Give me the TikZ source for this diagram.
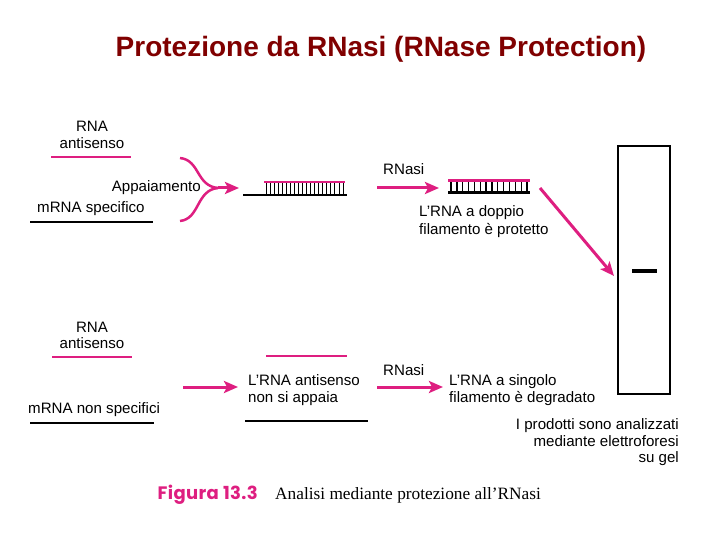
\documentclass[tikz,border=0pt]{standalone}
\usepackage{fontspec}
\setmainfont{Liberation Sans}
\newfontfamily\capserif{Liberation Serif}
\newfontfamily\figfont[LetterSpace=2]{Poppins}
\usetikzlibrary{arrows.meta}
\definecolor{mag}{RGB}{222,30,128}
\definecolor{titlered}{RGB}{128,0,0}
\begin{document}
\begin{tikzpicture}[x=1pt,y=-1pt,
  lbl/.style={font=\fontsize{15.1}{17}\selectfont, inner sep=0pt},
  magline/.style={draw=mag, line width=2pt},
  magthin/.style={draw=mag, line width=1.5pt},
  blkline/.style={draw=black, line width=2.5pt},
  tick/.style={draw=black, line width=0.8pt},
  thicktick/.style={draw=black, line width=1.3pt},
  magarrow/.style={draw=mag, line width=3pt, -{Stealth[length=14pt,width=12pt,inset=3pt]}},
  magcurve/.style={draw=mag, line width=2.5pt},
]
\useasboundingbox (0,0) rectangle (720,540);

% title
\node[anchor=base, inner sep=0pt, text=titlered, font=\fontsize{28}{30}\selectfont\bfseries] (title) at (381,57) {Protezione da RNasi (RNase Protection)};

% ---------- section 1 ----------
\node[lbl, anchor=base] (rna1) at (92,132) {RNA};
\node[lbl, anchor=base] (anti1) at (92,149) {antisenso};
\coordinate (as1a) at (51,157); \coordinate (as1b) at (131,157);
\draw[magline] (as1a) -- (as1b);
\node[lbl, anchor=base east] (appa) at (201,192) {Appaiamento};
\node[lbl, anchor=base west] (mspec) at (37,212) {mRNA specifico};
\coordinate (m1a) at (30,222); \coordinate (m1b) at (153,222);
\draw[blkline] (m1a) -- (m1b);

% merging arrow
\coordinate (cts) at (180,158);
\coordinate (cbs) at (180,221);
\coordinate (cm) at (218,188);
\coordinate (ctip) at (239,188);
\draw[magcurve] (cts) .. controls (200,160) and (196,186) .. (cm);
\draw[magcurve] (cbs) .. controls (200,219) and (196,190) .. (cm);
\draw[magarrow] (cm) -- (ctip);

% duplex 1
\coordinate (d1a) at (243,195); \coordinate (d1b) at (347,195);
\coordinate (d1ma) at (264,182); \coordinate (d1mb) at (345,182);
\foreach \i in {0,...,19} {\draw[tick] (266+\i*4.05,182) -- (266+\i*4.05,195);}
\draw[magthin] (d1ma) -- (d1mb);
\draw[blkline] (d1a) -- (d1b);

% RNasi arrow 1
\node[lbl, anchor=base west] (rnasi1) at (383,175) {RNasi};
\coordinate (r1a) at (377,188); \coordinate (r1b) at (439,188);
\draw[magarrow] (r1a) -- (r1b);

% duplex 2
\coordinate (d2ma) at (448,181); \coordinate (d2mb) at (530,181);
\coordinate (d2a) at (448,193); \coordinate (d2b) at (530,193);
\foreach \i in {0,...,13} {\draw[thicktick] (451+\i*5.85,181) -- (451+\i*5.85,193);}
\draw[draw=mag, line width=3pt] (d2ma) -- (d2mb);
\draw[draw=black, line width=3pt] (d2a) -- (d2b);
\node[lbl, anchor=base west] (prot1) at (419,216) {L’RNA a doppio};
\node[lbl, anchor=base west] (prot2) at (419,234) {filamento è protetto};

% diagonal arrow to gel
\coordinate (dga) at (540,188); \coordinate (dgb) at (614,276);
\draw[magarrow] (dga) -- (dgb);

% gel
\node[draw=black, line width=1.2pt, minimum width=52pt, minimum height=248pt, inner sep=0pt] (gel) at (644,270) {};
\coordinate (banda) at (632,271); \coordinate (bandb) at (657,271);
\draw[draw=black, line width=4.5pt] (banda) -- (bandb);

% ---------- section 2 ----------
\node[lbl, anchor=base] (rna2) at (92,332) {RNA};
\node[lbl, anchor=base] (anti2) at (92,348) {antisenso};
\coordinate (as2a) at (52,357); \coordinate (as2b) at (132,357);
\draw[magline] (as2a) -- (as2b);
\node[lbl, anchor=base west] (mnon) at (28,413) {mRNA non specifici};
\coordinate (m2a) at (30,423); \coordinate (m2b) at (154,423);
\draw[blkline] (m2a) -- (m2b);

\coordinate (a2a) at (183,387); \coordinate (a2b) at (238,387);
\draw[magarrow] (a2a) -- (a2b);

\coordinate (s2ma) at (266,356); \coordinate (s2mb) at (347,356);
\draw[magline] (s2ma) -- (s2mb);
\node[lbl, anchor=base west] (nsa1) at (248,385) {L’RNA antisenso};
\node[lbl, anchor=base west] (nsa2) at (248,402) {non si appaia};
\coordinate (s2a) at (245,421); \coordinate (s2b) at (368,421);
\draw[blkline] (s2a) -- (s2b);

\node[lbl, anchor=base west] (rnasi2) at (383,375) {RNasi};
\coordinate (r2a) at (377,387); \coordinate (r2b) at (443,387);
\draw[magarrow] (r2a) -- (r2b);

\node[lbl, anchor=base west] (deg1) at (449,385) {L’RNA a singolo};
\node[lbl, anchor=base west] (deg2) at (449,402) {filamento è degradato};

\node[lbl, anchor=base east] (pr1) at (679,429) {I prodotti sono analizzati};
\node[lbl, anchor=base east] (pr2) at (679,446) {mediante elettroforesi};
\node[lbl, anchor=base east] (pr3) at (679,462) {su gel};

% caption
\node[anchor=base east, inner sep=0pt, text=mag, font=\figfont\fontsize{18}{20}\selectfont\bfseries] (fig) at (258,499) {Figura 13.3};
\node[anchor=base west, inner sep=0pt, font=\capserif\fontsize{17.3}{19}\selectfont] (cap) at (275,499) {Analisi mediante protezione all’RNasi};
\end{tikzpicture}
\end{document}
